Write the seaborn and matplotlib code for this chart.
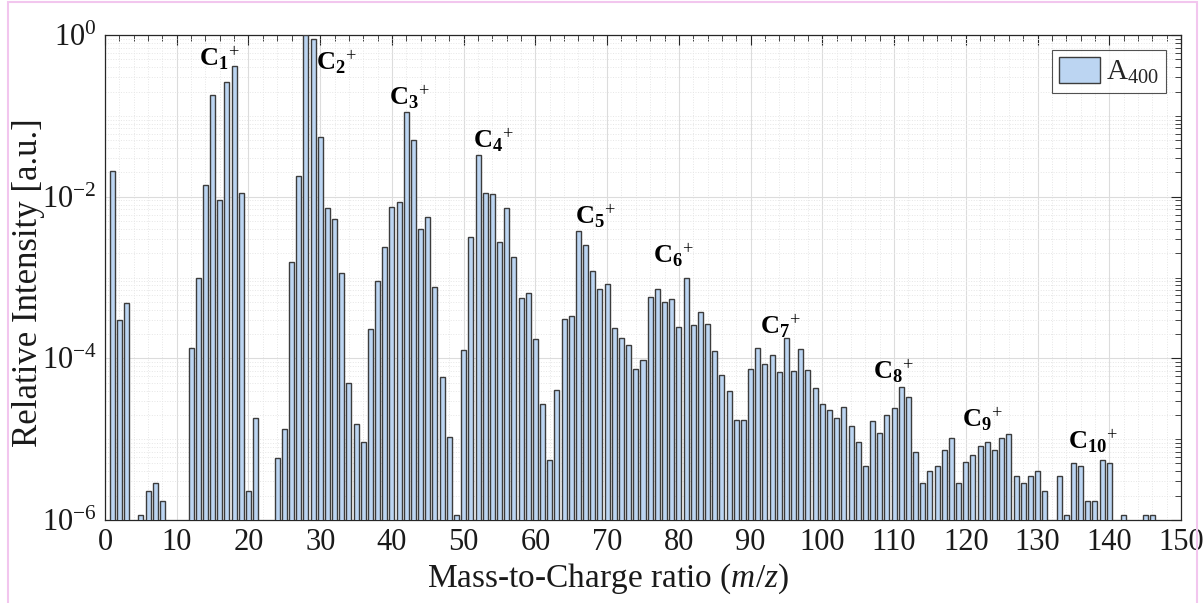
import matplotlib
matplotlib.use("Agg")
import matplotlib.pyplot as plt
import matplotlib.ticker as mticker
from matplotlib.patches import Rectangle
import numpy as np
import pandas as pd
import seaborn as sns

# mass-to-charge (m/z) of each bar and its relative intensity
mz = [1, 2, 3, 5, 6, 7, 8,
      12, 13, 14, 15, 16, 17, 18, 19, 20, 21,
      24, 25, 26, 27, 28, 29, 30, 31, 32, 33, 34, 35, 36,
      37, 38, 39, 40, 41, 42, 43, 44, 45, 46, 47, 48, 49,
      50, 51, 52, 53, 54, 55, 56, 57, 58, 59, 60, 61, 62, 63,
      64, 65, 66, 67, 68, 69, 70, 71, 72, 73, 74, 75,
      76, 77, 78, 79, 80, 81, 82, 83, 84, 85, 86, 87, 88, 89,
      90, 91, 92, 93, 94, 95, 96, 97, 98, 99, 100, 101, 102,
      103, 104, 105, 106, 107, 108, 109, 110, 111, 112, 113, 114,
      115, 116, 117, 118, 119, 120, 121, 122, 123, 124, 125, 126,
      127, 128, 129, 130, 131, 133, 134, 135, 136, 137, 138, 139, 140,
      142, 145, 146]
intensity = [2.1e-2, 3.0e-4, 4.8e-4, 1.15e-6, 2.3e-6, 2.9e-6, 1.7e-6,
             1.33e-4, 1.0e-3, 1.38e-2, 0.179, 9.2e-3, 0.26, 0.417, 1.1e-2, 2.3e-6, 1.83e-5,
             5.8e-6, 1.35e-5, 1.55e-3, 1.8e-2, 1.0, 0.885, 5.4e-2, 7.3e-3, 5.3e-3, 1.15e-3, 4.9e-5, 1.56e-5, 9.1e-6,
             2.28e-4, 9.1e-4, 2.4e-3, 7.4e-3, 8.5e-3, 0.11, 5.0e-2, 4.0e-3, 5.6e-3, 7.7e-4, 5.9e-5, 1.05e-5, 1.14e-6,
             1.26e-4, 3.2e-3, 3.3e-2, 1.1e-2, 1.08e-2, 2.75e-3, 7.2e-3, 1.8e-3, 5.6e-4, 6.5e-4, 1.73e-4, 2.7e-5, 5.6e-6, 4.1e-5,
             3.1e-4, 3.3e-4, 3.8e-3, 2.5e-3, 1.2e-3, 7.2e-4, 8.3e-4, 2.35e-4, 1.78e-4, 1.45e-4, 7.3e-5, 9.6e-5,
             5.8e-4, 7.2e-4, 5.0e-4, 5.4e-4, 2.46e-4, 1.0e-3, 2.56e-4, 3.7e-4, 2.65e-4, 1.22e-4, 6.3e-5, 3.9e-5, 1.73e-5, 1.73e-5,
             7.4e-5, 1.35e-4, 8.5e-5, 1.1e-4, 6.7e-5, 1.77e-4, 6.9e-5, 1.3e-4, 7.1e-5, 4.3e-5, 2.7e-5, 2.3e-5, 1.83e-5,
             2.5e-5, 1.45e-5, 9.2e-6, 4.7e-6, 1.66e-5, 1.2e-5, 2.0e-5, 2.4e-5, 4.4e-5, 3.3e-5, 6.9e-6, 2.9e-6,
             4.0e-6, 4.7e-6, 7.4e-6, 1.04e-5, 2.9e-6, 5.2e-6, 6.4e-6, 8.2e-6, 9.2e-6, 7.4e-6, 1.04e-5, 1.15e-5,
             3.5e-6, 2.9e-6, 3.5e-6, 4.0e-6, 2.3e-6, 3.5e-6, 1.15e-6, 5.1e-6, 4.7e-6, 1.7e-6, 1.7e-6, 5.6e-6, 5.1e-6,
             1.15e-6, 1.15e-6, 1.15e-6]

# cluster labels C_n^+ : (n, x, y)
cluster_n = [1, 2, 3, 4, 5, 6, 7, 8, 9, 10]
cluster_x = [16.0, 32.2, 42.4, 54.1, 68.3, 79.2, 94.1, 109.9, 122.3, 137.7]
cluster_y = [0.52, 0.46, 0.17, 0.05, 5.8e-3, 1.9e-3, 2.5e-4, 7.0e-5, 1.75e-5, 9.5e-6]

df = pd.DataFrame({"mz": mz, "intensity": intensity})

sns.set_style("white")
plt.rcParams["font.family"] = ["Liberation Serif", "DejaVu Serif"]
plt.rcParams["mathtext.fontset"] = "custom"
plt.rcParams["mathtext.rm"] = "Liberation Serif"
plt.rcParams["mathtext.it"] = "Liberation Serif:italic"
plt.rcParams["mathtext.bf"] = "Liberation Serif:bold"

fig = plt.figure(figsize=(12.03, 6.03), dpi=100)
ax = fig.add_axes([105 / 1203, 1 - 520 / 603, (1181 - 105) / 1203, (520 - 35) / 603])
ax.set_yscale("log")

sns.barplot(data=df, x="mz", y="intensity", native_scale=True, width=0.7,
            color="#bcd5f2", saturation=1, edgecolor="#3c3c3c", linewidth=1.0,
            label="A$_{400}$", ax=ax, zorder=3)

ax.set_xlim(0, 150)
ax.set_ylim(1e-6, 1)

ax.xaxis.set_major_locator(mticker.MultipleLocator(10))
ax.xaxis.set_minor_locator(mticker.MultipleLocator(2))
ax.xaxis.set_major_formatter(mticker.FormatStrFormatter("%d"))
ax.yaxis.set_major_locator(mticker.FixedLocator([1e-6, 1e-4, 1e-2, 1]))
minor_y = [k * 10.0 ** d for d in range(-6, 0) for k in range(1, 10) if not (k == 1 and d % 2 == 0)]
ax.yaxis.set_minor_locator(mticker.FixedLocator(minor_y))
ax.yaxis.set_major_formatter(mticker.FuncFormatter(
    lambda v, p: r"$\mathregular{10^{%d}}$" % int(round(np.log10(v)))))
ax.yaxis.set_minor_formatter(mticker.NullFormatter())

ax.tick_params(which="both", direction="in", top=True, right=True, colors="#262626", labelcolor="#1a1a1a")
ax.tick_params(which="major", length=7, width=0.8, labelsize=22, pad=6)
ax.tick_params(which="minor", length=4, width=0.6)

ax.grid(True, which="major", color="#dcdcdc", linewidth=0.8, linestyle="-", zorder=0)
ax.grid(True, which="minor", color="#e6e6e6", linewidth=0.7, linestyle=":", zorder=0)
ax.set_axisbelow(True)
for s in ax.spines.values():
    s.set_color("#262626")
    s.set_linewidth(0.9)

ax.set_xlabel(r"Mass-to-Charge ratio ($\mathit{m/z}$)", fontsize=24, color="#1a1a1a")
ax.set_ylabel("Relative Intensity [a.u.]", fontsize=25, color="#1a1a1a")
ax.xaxis.set_label_coords(0.467, -0.085)
ax.yaxis.set_label_coords(-0.056, 0.49)

for n, xt, yt in zip(cluster_n, cluster_x, cluster_y):
    ax.text(xt, yt, r"$\mathbf{C}_{\mathbf{%d}}{}^{+}$" % n, fontsize=19,
            ha="center", va="center", color="black", zorder=5)

leg = ax.legend(loc="upper right", fontsize=21, frameon=True, fancybox=False,
                edgecolor="#262626", handlelength=1.4, handleheight=1.0,
                borderpad=0.25, handletextpad=0.2, borderaxespad=0.5)
leg.get_frame().set_linewidth(0.8)

# pink frame around the figure
fig.patches.append(Rectangle((8 / 1203, -0.05), (1197 - 8) / 1203, 1.05 - 2 / 603,
                             transform=fig.transFigure, fill=False,
                             edgecolor="#f2c6ee", linewidth=1.5))

fig.savefig("out.png", dpi=100)
